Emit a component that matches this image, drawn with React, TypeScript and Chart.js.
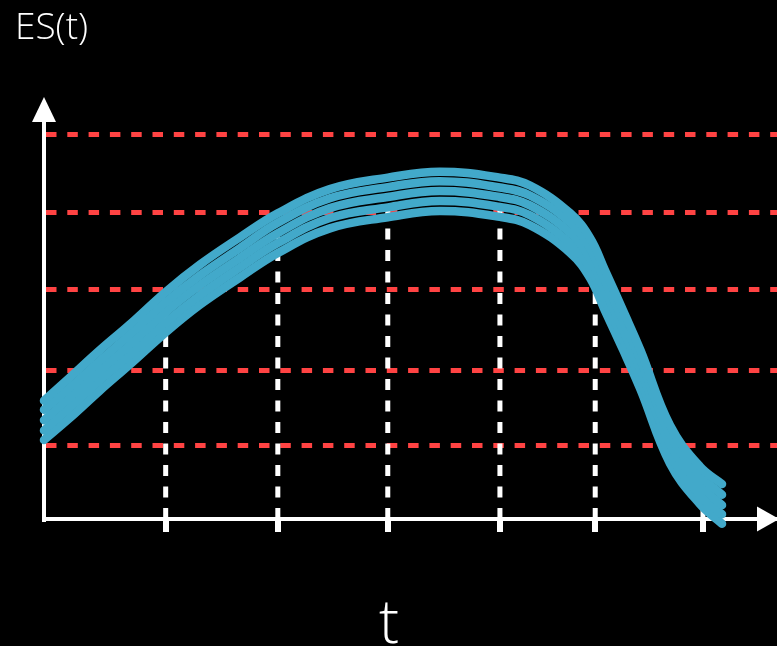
import React, { useEffect, useRef } from "react";
import { Chart, registerables } from "chart.js";

Chart.register(...registerables);

// Curve sample positions along t (0–100 scale)
const tValues = [0, 3.5, 7.6, 11.7, 16.6, 21.3, 26.7, 31.9, 39.0, 46.9, 54.0, 62.2, 66.3, 71.8, 74.5, 76.5, 79.0, 81.4, 85.4, 89.5, 92.5];

// Hand-drawn strands of ES(t)
const strandA = [29.8, 35.6, 42.5, 49.0, 57.2, 64.1, 70.9, 77.0, 83.1, 86.0, 87.5, 86.0, 84.0, 77.0, 70.8, 62.8, 52.5, 42.4, 23.6, 13.2, 8.8];
const strandB = [27.5, 33.0, 39.8, 46.4, 54.6, 61.4, 68.2, 74.6, 80.8, 83.6, 85.1, 83.5, 81.5, 74.6, 68.2, 60.1, 50.0, 40.0, 21.3, 11.0, 6.1];
const strandC = [24.9, 30.5, 37.3, 43.8, 52.1, 58.9, 65.7, 72.0, 78.3, 81.1, 82.6, 81.1, 79.0, 72.0, 65.7, 57.7, 47.6, 37.5, 18.9, 8.6, 3.5];
const strandD = [22.3, 28.0, 34.9, 41.3, 49.5, 56.4, 63.3, 69.5, 75.8, 78.5, 80.1, 78.6, 76.5, 69.4, 63.2, 55.2, 45.1, 35.0, 16.4, 6.0, 1.2];
const strandE = [19.9, 25.4, 32.3, 38.9, 47.0, 54.0, 60.8, 67.0, 73.2, 76.0, 77.6, 76.1, 74.0, 67.0, 60.7, 52.6, 42.6, 32.5, 14.0, 3.7, -1.2];

// x-axis tick positions and the dashed guide lines rising from them
const xTicks = [16.6, 31.9, 46.9, 62.2, 75.2, 89.9];
const guideTops = [52.0, 71.0, 80.0, 80.0, 61.0, 2.8];

// red dashed horizontal levels
const levels = [18.6, 37.5, 57.7, 77.1, 96.8];

const yTitle = "ES(t)";
const xTitle = "t";

const BLUE = "#42A9CA";
const RED = "#FF4343";
const WHITE = "#FFFFFF";

const decorPlugin = {
  id: "decor",
  beforeDraw(chart: any) {
    const ctx = chart.ctx;
    ctx.save();
    ctx.fillStyle = "#000000";
    ctx.fillRect(0, 0, chart.width, chart.height);
    ctx.restore();
  },
  afterDraw(chart: any) {
    const ctx = chart.ctx;
    const { left, top, right, bottom } = chart.chartArea;
    ctx.save();
    ctx.fillStyle = WHITE;
    // y arrow
    ctx.beginPath();
    ctx.moveTo(left, top - 25);
    ctx.lineTo(left - 12, top);
    ctx.lineTo(left + 12, top);
    ctx.closePath();
    ctx.fill();
    // x arrow
    ctx.beginPath();
    ctx.moveTo(right + 2, bottom);
    ctx.lineTo(right - 20, bottom - 12.5);
    ctx.lineTo(right - 20, bottom + 12.5);
    ctx.closePath();
    ctx.fill();
    // titles
    ctx.fillStyle = WHITE;
    ctx.textBaseline = "alphabetic";
    ctx.textAlign = "left";
    ctx.font = "300 37px 'Open Sans'";
    ctx.fillText(yTitle, 15, 39);
    ctx.textAlign = "center";
    ctx.font = "300 60px 'Open Sans'";
    ctx.fillText(xTitle, 389, 643);
    ctx.restore();
  },
};

export default function App() {
  const canvasRef = useRef<HTMLCanvasElement | null>(null);

  useEffect(() => {
    document.body.style.margin = "0";
    document.body.style.background = "#000";
    const canvas = canvasRef.current;
    if (!canvas) return;

    const strands = [strandA, strandB, strandC, strandD, strandE];
    const strandSets = strands.map((s, i) => ({
      label: "strand" + i,
      data: tValues.map((t, j) => ({ x: t, y: s[j] })),
      borderColor: BLUE,
      backgroundColor: BLUE,
      borderWidth: 8.5,
      pointRadius: 0,
      tension: 0.4,
      borderCapStyle: "round" as const,
      borderJoinStyle: "round" as const,
      clip: false as any,
      order: 0,
    }));

    const guideSets = xTicks.map((t, i) => ({
      label: "guide" + i,
      data: [
        { x: t, y: 0 },
        { x: t, y: guideTops[i] },
      ],
      borderColor: WHITE,
      borderWidth: 5,
      borderDash: [11, 10.5],
      pointRadius: 0,
      order: 5,
    }));

    const chart = new Chart(canvas, {
      type: "line",
      data: { datasets: [...strandSets, ...guideSets] as any },
      plugins: [decorPlugin],
      options: {
        animation: false,
        responsive: false,
        devicePixelRatio: 1,
        layout: { padding: { top: 122, left: 44, right: 0, bottom: 114 } },
        plugins: { legend: { display: false }, tooltip: { enabled: false }, title: { display: false } },
        scales: {
          x: {
            type: "linear",
            min: 0,
            max: 100,
            ticks: { display: false },
            afterBuildTicks: (axis: any) => {
              axis.ticks = xTicks.map((v) => ({ value: v }));
            },
            grid: {
              display: true,
              drawOnChartArea: false,
              drawTicks: true,
              tickLength: 13,
              color: WHITE,
              lineWidth: 6,
            },
            border: { display: true, color: WHITE, width: 4 },
          },
          y: {
            type: "linear",
            min: 0,
            max: 100,
            ticks: { display: false },
            afterBuildTicks: (axis: any) => {
              axis.ticks = levels.map((v) => ({ value: v }));
            },
            grid: {
              display: true,
              drawOnChartArea: true,
              drawTicks: false,
              color: RED,
              lineWidth: 5,
            },
            border: { display: true, color: WHITE, width: 4, dash: [10.5, 10.8] },
          },
        },
      },
    });
    return () => chart.destroy();
  }, []);

  return (
    <div style={{ width: 777, height: 646, background: "#000" }}>
      <canvas ref={canvasRef} width={777} height={646} style={{ display: "block" }} />
    </div>
  );
}
